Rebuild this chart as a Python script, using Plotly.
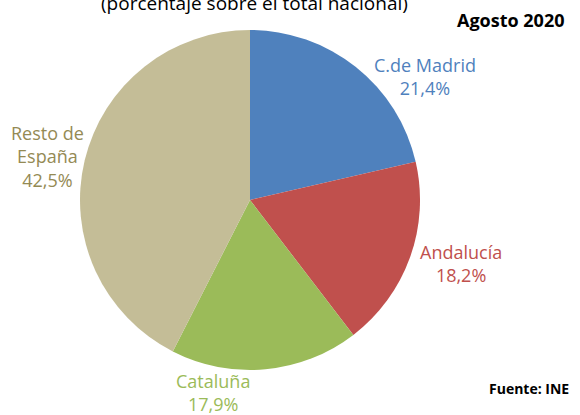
import plotly.graph_objects as go

categories = ["C.de Madrid", "Andalucía", "Cataluña", "Resto de<br>España"]
values = [21.4, 18.2, 17.9, 42.5]
slice_colors = ["#4F81BD", "#C0504D", "#9BBB59", "#C4BD97"]
label_colors = ["#4F81BD", "#C0504D", "#9BBB59", "#948A54"]

W, H = 580, 415
FONT = "Open Sans"

fig = go.Figure(go.Pie(
    labels=categories,
    values=values,
    sort=False,
    direction="clockwise",
    rotation=0,
    marker=dict(colors=slice_colors, line=dict(width=0)),
    textinfo="none",
    hoverinfo="label+percent",
    domain=dict(x=[80 / W, 420 / W], y=[(H - 370) / H, (H - 30) / H]),
    showlegend=False,
))

# label anchor points (pixel centers) for each category
label_px = [(425, 77), (461, 263), (213, 392), (47, 156)]

annotations = []
for cat, val, col, (px, py) in zip(categories, values, label_colors, label_px):
    annotations.append(dict(
        x=px / W, y=1 - py / H, xref="paper", yref="paper",
        text=f"{cat}<br>{str(val).replace('.', ',')}%",
        showarrow=False, xanchor="center", yanchor="middle",
        font=dict(family=FONT, size=18, color=col),
    ))

annotations += [
    dict(x=254 / W, y=1 - 3 / H, xref="paper", yref="paper",
         text="(porcentaje sobre el total nacional)", showarrow=False,
         xanchor="center", yanchor="middle",
         font=dict(family=FONT, size=19, color="#000000")),
    dict(x=566 / W, y=1 - 20 / H, xref="paper", yref="paper",
         text="<b>Agosto 2020</b>", showarrow=False,
         xanchor="right", yanchor="middle",
         font=dict(family=FONT, size=18, color="#000000")),
    dict(x=571 / W, y=1 - 388 / H, xref="paper", yref="paper",
         text="<b>Fuente: INE</b>", showarrow=False,
         xanchor="right", yanchor="middle",
         font=dict(family=FONT, size=14, color="#000000")),
]

fig.update_layout(
    width=W, height=H,
    margin=dict(l=0, r=0, t=0, b=0),
    paper_bgcolor="white", plot_bgcolor="white",
    annotations=annotations,
)

fig.write_html("out.html", config={"displayModeBar": False},
               post_script="document.body.style.margin='0';")
